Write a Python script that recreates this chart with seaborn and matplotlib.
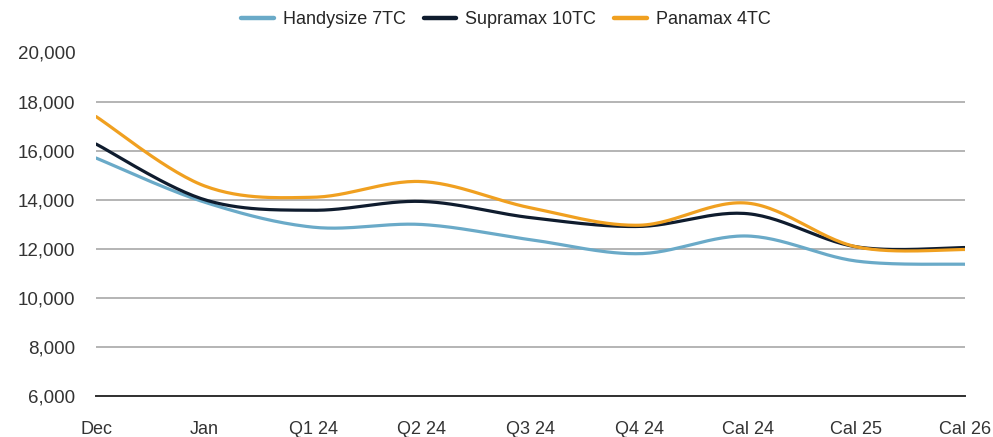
import matplotlib
matplotlib.use('Agg')
import matplotlib.pyplot as plt
import numpy as np
import pandas as pd
import seaborn as sns
from matplotlib.ticker import FuncFormatter

# values (USD/day)
periods = ['Dec', 'Jan', 'Q1 24', 'Q2 24', 'Q3 24', 'Q4 24', 'Cal 24', 'Cal 25', 'Cal 26']
handysize = [15700, 13900, 12880, 12990, 12370, 11800, 12520, 11500, 11370]
supramax = [16270, 14000, 13570, 13930, 13270, 12910, 13430, 12080, 12050]
panamax = [17390, 14560, 14100, 14740, 13670, 12960, 13860, 12080, 11970]

series_names = ['Handysize 7TC', 'Supramax 10TC', 'Panamax 4TC']
series_colors = ['#6aaac8', '#0f1c2e', '#f0a020']


def smooth(xs, ys, n=30):
    # Catmull-Rom spline through the points, like Excel's "smoothed line"
    xs = np.asarray(xs, float)
    ys = np.asarray(ys, float)
    px = np.concatenate([[xs[0]], xs, [xs[-1]]])
    py = np.concatenate([[ys[0]], ys, [ys[-1]]])
    out_x, out_y = [], []
    t = np.linspace(0, 1, n, endpoint=False)
    for i in range(1, len(px) - 2):
        for p, out in ((px, out_x), (py, out_y)):
            p0, p1, p2, p3 = p[i - 1], p[i], p[i + 1], p[i + 2]
            out.extend(0.5 * (2 * p1 + (-p0 + p2) * t
                              + (2 * p0 - 5 * p1 + 4 * p2 - p3) * t ** 2
                              + (-p0 + 3 * p1 - 3 * p2 + p3) * t ** 3))
    out_x.append(xs[-1])
    out_y.append(ys[-1])
    return np.array(out_x), np.array(out_y)


sns.set_style('white')
plt.rcParams['font.family'] = ['Liberation Sans', 'DejaVu Sans']

fig = plt.figure(figsize=(9.93, 4.37), dpi=100)
ax = fig.add_axes([96 / 993, 1 - 396 / 437, (965 - 96) / 993, (396 - 52.5) / 437])

pos = np.arange(len(periods))
for name, vals, col in zip(series_names, [handysize, supramax, panamax], series_colors):
    sx, sy = smooth(pos, vals)
    sns.lineplot(x=sx, y=sy, ax=ax, color=col, lw=2.3, label=name,
                 sort=False, estimator=None)

ax.set_xlim(0, len(periods) - 1)
ax.set_ylim(6000, 20000)
ax.set_yticks(np.arange(6000, 20001, 2000))
ax.yaxis.set_major_formatter(FuncFormatter(lambda v, _: f'{v:,.0f}'))
ax.set_xticks(pos)
ax.set_xticklabels(periods)

ax.grid(axis='y', color='#a8a8a8', lw=1.2)
ax.grid(axis='x', visible=False)
ax.set_axisbelow(True)
for s in ['top', 'right', 'left']:
    ax.spines[s].set_visible(False)
ax.spines['bottom'].set_color('#303030')
ax.spines['bottom'].set_linewidth(1.4)

ax.tick_params(axis='y', length=0, pad=15, labelsize=13.5, labelcolor='#333333')
ax.tick_params(axis='x', length=0, pad=18, labelsize=13, labelcolor='#333333')

ax.legend_.remove()
handles, labels = ax.get_legend_handles_labels()
leg = fig.legend(handles, labels, loc='center', bbox_to_anchor=(506 / 993, 1 - 20 / 437),
                 ncol=3, frameon=False, fontsize=13, handlelength=1.8,
                 handletextpad=0.5, columnspacing=1.0)
for line in leg.get_lines():
    line.set_linewidth(3.2)

fig.savefig('out.png', dpi=100)
